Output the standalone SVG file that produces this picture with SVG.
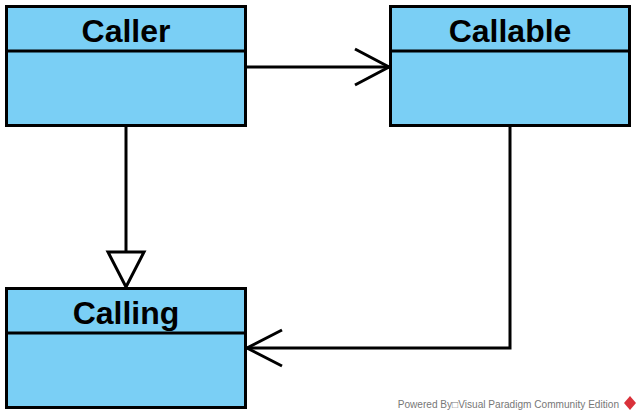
<svg xmlns="http://www.w3.org/2000/svg" width="642" height="420" viewBox="0 0 642 420">
<style>
.box{fill:#7ACFF5;stroke:#000;stroke-width:3}
.ttl{font-family:"Liberation Sans",Arial,sans-serif;font-weight:bold;font-size:32px;text-anchor:middle;fill:#000}
.ln{fill:none;stroke:#000;stroke-width:3}
.ft{font-family:"Liberation Sans",Arial,sans-serif;font-size:10.1px;fill:#777}
</style>
<rect width="642" height="420" fill="#fff"/>
<g id="connectors">
<path class="ln" d="M246,67 H389"/>
<path class="ln" d="M355,49 L389,67 L355,85"/>
<path class="ln" d="M126,127 V252"/>
<path class="ln" d="M108,252 H144 L126,287 Z" fill="#fff"/>
<path class="ln" d="M510,127 V348 H247"/>
<path class="ln" d="M282,330 L247,348 L282,366"/>
</g>
<g id="caller">
<rect class="box" x="6.5" y="6.5" width="239" height="119"/>
<line class="ln" x1="6" y1="51" x2="246" y2="51"/>
<text class="ttl" x="126" y="42">Caller</text>
</g>
<g id="callable">
<rect class="box" x="390.5" y="6.5" width="239" height="119"/>
<line class="ln" x1="390" y1="51" x2="630" y2="51"/>
<text class="ttl" x="510" y="42">Callable</text>
</g>
<g id="calling">
<rect class="box" x="6.5" y="288.5" width="239" height="119"/>
<line class="ln" x1="6" y1="333" x2="246" y2="333"/>
<text class="ttl" x="126" y="324">Calling</text>
</g>
<g id="footer">
<text class="ft" x="619" y="408" text-anchor="end">Powered By□Visual Paradigm Community Edition</text>
<polygon points="630,396 636,403 630,410 624,403" fill="#d9313a"/>
</g>
</svg>
